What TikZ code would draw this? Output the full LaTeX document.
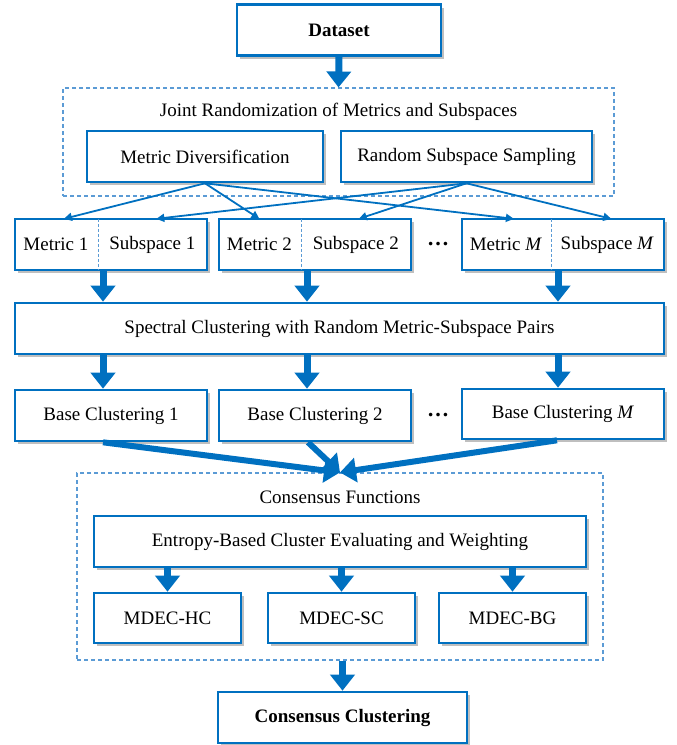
\documentclass[tikz,border=0pt]{standalone}
\usepackage{fontspec}
\setmainfont{Liberation Serif}
\usetikzlibrary{arrows.meta,shadows}
\definecolor{boxblue}{HTML}{0070C0}
\definecolor{dashblue}{HTML}{5B9BD5}

\begin{document}
\begin{tikzpicture}[
            x=1pt, y=1pt,
            font=\fontsize{19}{23}\selectfont,
            box-node/.style={rectangle,draw=boxblue,line width=2.6pt,fill=white,
                drop shadow={shadow xshift=3pt,shadow yshift=-3pt,opacity=0.5}},
            group-node/.style={rectangle,draw=dashblue,line width=1.1pt,dash pattern=on 4pt off 3pt},
            part-node/.style={rectangle,inner sep=0pt,minimum height=51pt},
            div-line/.style={draw=dashblue,line width=1pt,dash pattern=on 3pt off 2pt},
            big-arrow/.style={draw=boxblue,line width=7pt,-{Triangle[length=16pt,width=24pt]}},
            thin-arrow/.style={draw=boxblue,line width=1.8pt,-{Triangle[length=8pt,width=8pt]}},
        ]
            \useasboundingbox (0,0) rectangle (677,-745);

            \node[box-node,minimum width=204pt,minimum height=51pt] (data) at (339,-30) {\textbf{Dataset}};

            \node[group-node,minimum width=551pt,minimum height=108pt] (joint) at (338.5,-142) {};
            \node (joint-title) at (338.5,-112) {Joint Randomization of Metrics and Subspaces};
            \node[box-node,minimum width=236pt,minimum height=51pt] (mdiv) at (205,-156.5) {Metric Diversification};
            \node[box-node,minimum width=251pt,minimum height=51pt] (rss) at (466.5,-156.5) {Random Subspace Sampling};

            \node[box-node,minimum width=192pt,minimum height=51pt] (pair1) at (111,-244.5) {};
            \node[part-node,minimum width=84pt,anchor=west] (m1) at (pair1.west) {Metric 1};
            \node[part-node,minimum width=108pt,anchor=west] (s1) at (m1.east) {Subspace 1};
            \node[box-node,minimum width=192pt,minimum height=51pt] (pair2) at (315,-244.5) {};
            \node[part-node,minimum width=83pt,anchor=west] (m2) at (pair2.west) {Metric 2};
            \node[part-node,minimum width=109pt,anchor=west] (s2) at (m2.east) {Subspace 2};
            \node (dots1) at (438,-244.5) {\fontsize{22}{24}\selectfont\textbf{\ldots}};
            \node[box-node,minimum width=202pt,minimum height=51pt] (pairM) at (563,-244.5) {};
            \node[part-node,minimum width=90pt,anchor=west] (mM) at (pairM.west) {Metric \textit{M}};
            \node[part-node,minimum width=112pt,anchor=west] (sM) at (mM.east) {Subspace \textit{M}};
            \draw[div-line] (m1.north east) -- (m1.south east);
            \draw[div-line] (m2.north east) -- (m2.south east);
            \draw[div-line] (mM.north east) -- (mM.south east);

            \node[box-node,minimum width=649pt,minimum height=51pt] (spec) at (339.5,-328.5) {Spectral Clustering with Random Metric-Subspace Pairs};

            \node[box-node,minimum width=192pt,minimum height=51pt] (base1) at (111,-415.5) {Base Clustering 1};
            \node[box-node,minimum width=192pt,minimum height=51pt] (base2) at (315,-415.5) {Base Clustering 2};
            \node (dots2) at (438,-415) {\fontsize{22}{24}\selectfont\textbf{\ldots}};
            \node[box-node,minimum width=202pt,minimum height=50pt] (baseM) at (563,-414) {Base Clustering \textit{M}};

            \node[group-node,minimum width=526pt,minimum height=187pt] (cons) at (340,-566.5) {};
            \node (cons-title) at (340,-497) {Consensus Functions};
            \node[box-node,minimum width=492pt,minimum height=51pt] (ent) at (340,-541.5) {Entropy-Based Cluster Evaluating and Weighting};
            \node[box-node,minimum width=147pt,minimum height=50pt] (hc) at (167.5,-618) {MDEC-HC};
            \node[box-node,minimum width=147pt,minimum height=50pt] (sc) at (341.5,-618) {MDEC-SC};
            \node[box-node,minimum width=147pt,minimum height=50pt] (bg) at (512.5,-618) {MDEC-BG};

            \node[box-node,minimum width=249pt,minimum height=51pt] (cc) at (342.5,-717.5) {\textbf{Consensus Clustering}};

            % connectors
            \draw[big-arrow] (data.south) -- (joint.north);
            \draw[thin-arrow] (mdiv.south) -- ([xshift=8pt]m1.north);
            \draw[thin-arrow] (mdiv.south) -- (m2.north);
            \draw[thin-arrow] (mdiv.south) -- ([xshift=8pt]mM.north);
            \draw[thin-arrow] (rss.south) -- ([xshift=4pt]s1.north);
            \draw[thin-arrow] (rss.south) -- ([xshift=3pt]s2.north);
            \draw[thin-arrow] (rss.south) -- ([xshift=4pt]sM.north);

            \draw[big-arrow] ([xshift=-8pt]pair1.south) -- ([xshift=-8pt]pair1.south |- spec.north);
            \draw[big-arrow] ([xshift=-8pt]pair2.south) -- ([xshift=-8pt]pair2.south |- spec.north);
            \draw[big-arrow] ([xshift=-5pt]pairM.south) -- ([xshift=-5pt]pairM.south |- spec.north);
            \draw[big-arrow] ([xshift=-8pt]base1.north |- spec.south) -- ([xshift=-8pt]base1.north);
            \draw[big-arrow] ([xshift=-8pt]base2.north |- spec.south) -- ([xshift=-8pt]base2.north);
            \draw[big-arrow] ([xshift=-5pt]baseM.north |- spec.south) -- ([xshift=-5pt]baseM.north);

            \draw[big-arrow,line width=6pt] ([xshift=-8pt]base1.south) -- (cons.north);
            \draw[big-arrow,line width=6pt] ([xshift=-7pt]base2.south) -- (cons.north);
            \draw[big-arrow,line width=6pt] ([xshift=-6pt]baseM.south) -- (cons.north);

            \draw[big-arrow] (ent.south -| hc.north) -- (hc.north);
            \draw[big-arrow] (ent.south -| sc.north) -- (sc.north);
            \draw[big-arrow] (ent.south -| bg.north) -- (bg.north);
            \draw[big-arrow] (cons.south -| cc.north) -- (cc.north);
        \end{tikzpicture}
\end{document}
